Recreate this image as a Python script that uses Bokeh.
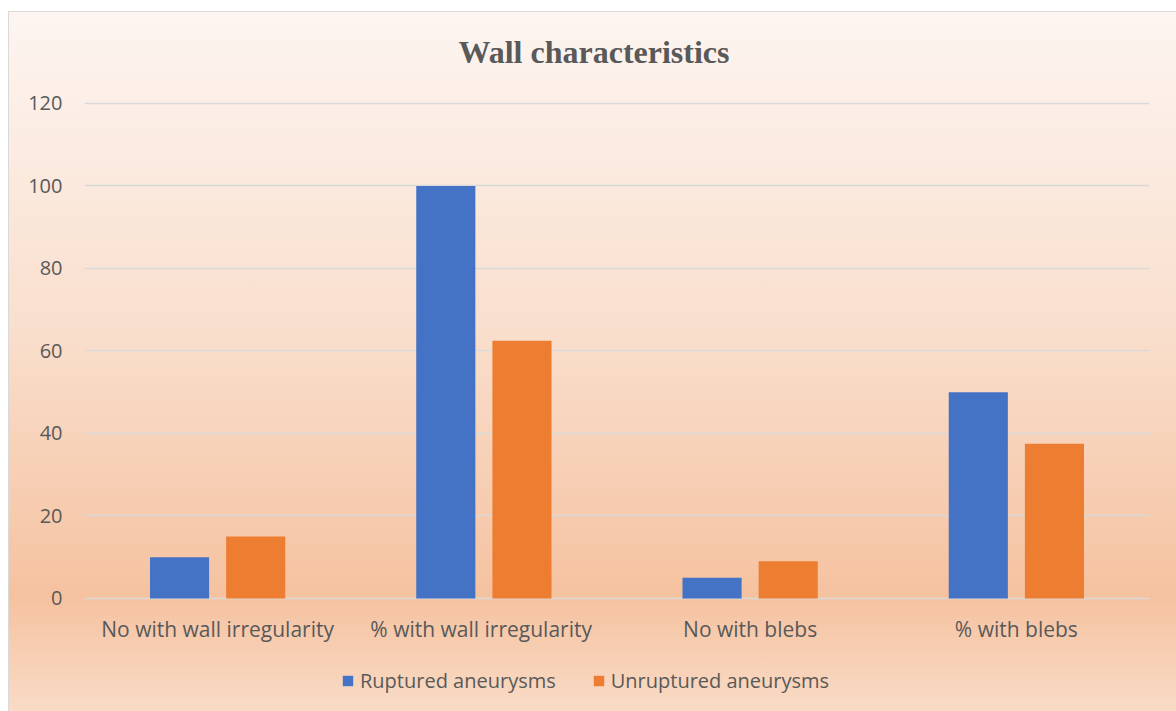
from bokeh.plotting import figure
from bokeh.models import ColumnDataSource, FactorRange, Legend, LegendItem, Range1d, Label
from bokeh.transform import dodge
from bokeh.core.properties import value
from bokeh.embed import file_html
from bokeh.resources import INLINE

title_text = "Wall characteristics"
categories = ["No with wall irregularity", "%  with wall irregularity", "No with blebs", "% with blebs"]
ruptured = [10, 100, 5, 50]
unruptured = [15, 62.5, 9, 37.5]
series_names = ["Ruptured aneurysms", "Unruptured aneurysms"]
y_ticks = [0, 20, 40, 60, 80, 100, 120]

src = ColumnDataSource(dict(cat=categories, rup=ruptured, unrup=unruptured))

# frame fills the canvas vertically so the title, category labels and legend sit inside it
p = figure(x_range=FactorRange(*categories, range_padding=0), y_range=Range1d(-27.64, 142.06),
           width=1168, height=700, x_axis_location=None,
           output_backend="svg", toolbar_location=None,
           min_border_left=75, min_border_right=28, min_border_top=0, min_border_bottom=0)
p.margin = (11, 0, 0, 8)
p.styles = {"background-image": "linear-gradient(to bottom, #fdf5f1 0%, #f9dfcd 45%, #f5c2a0 83.5%, #f9dbc6 100%)",
            "border-left": "1px solid #d9d9d9", "border-top": "1px solid #d9d9d9", "box-sizing": "border-box"}
p.background_fill_alpha = 0
p.border_fill_alpha = 0
p.outline_line_color = None

r1 = p.vbar(x=dodge("cat", -0.143, range=p.x_range), top="rup", width=0.222, source=src,
            fill_color="#4472C4", line_color=None)
r2 = p.vbar(x=dodge("cat", 0.143, range=p.x_range), top="unrup", width=0.222, source=src,
            fill_color="#ED7D31", line_color=None)

# category labels under the zero line
p.text(x="cat", y=0, text="cat", source=src, y_offset=31, text_align="center",
       text_baseline="middle", text_font=value("Open Sans"), text_font_size="21px",
       text_color="#595959")

p.add_layout(Label(x=2, y=120, x_offset=-23, y_offset=51, text=title_text,
                   text_align="center", text_baseline="middle",
                   text_font="Liberation Serif", text_font_size="32px",
                   text_font_style="bold", text_color="#595959"))

p.yaxis.ticker = y_ticks
p.yaxis.axis_line_color = None
p.yaxis.major_tick_line_color = None
p.yaxis.minor_tick_line_color = None
p.yaxis.major_label_text_font = "Open Sans"
p.yaxis.major_label_text_font_size = "20px"
p.yaxis.major_label_text_color = "#595959"
p.yaxis.major_label_standoff = 16

p.xgrid.grid_line_color = None
p.ygrid.ticker = y_ticks
p.ygrid.grid_line_color = "#d9d9d9"
p.ygrid.grid_line_width = 1.5

legend = Legend(items=[LegendItem(label=series_names[0], renderers=[r1]),
                       LegendItem(label=series_names[1], renderers=[r2])],
                orientation="horizontal", location=(257, 18),
                background_fill_alpha=0, border_line_color=None,
                label_text_font="Open Sans", label_text_font_size="20px", label_text_color="#595959",
                glyph_width=13, glyph_height=13, spacing=36, label_standoff=6, margin=0, padding=10)
p.add_layout(legend, "center")

open("out.html", "w").write(file_html(p, INLINE))
